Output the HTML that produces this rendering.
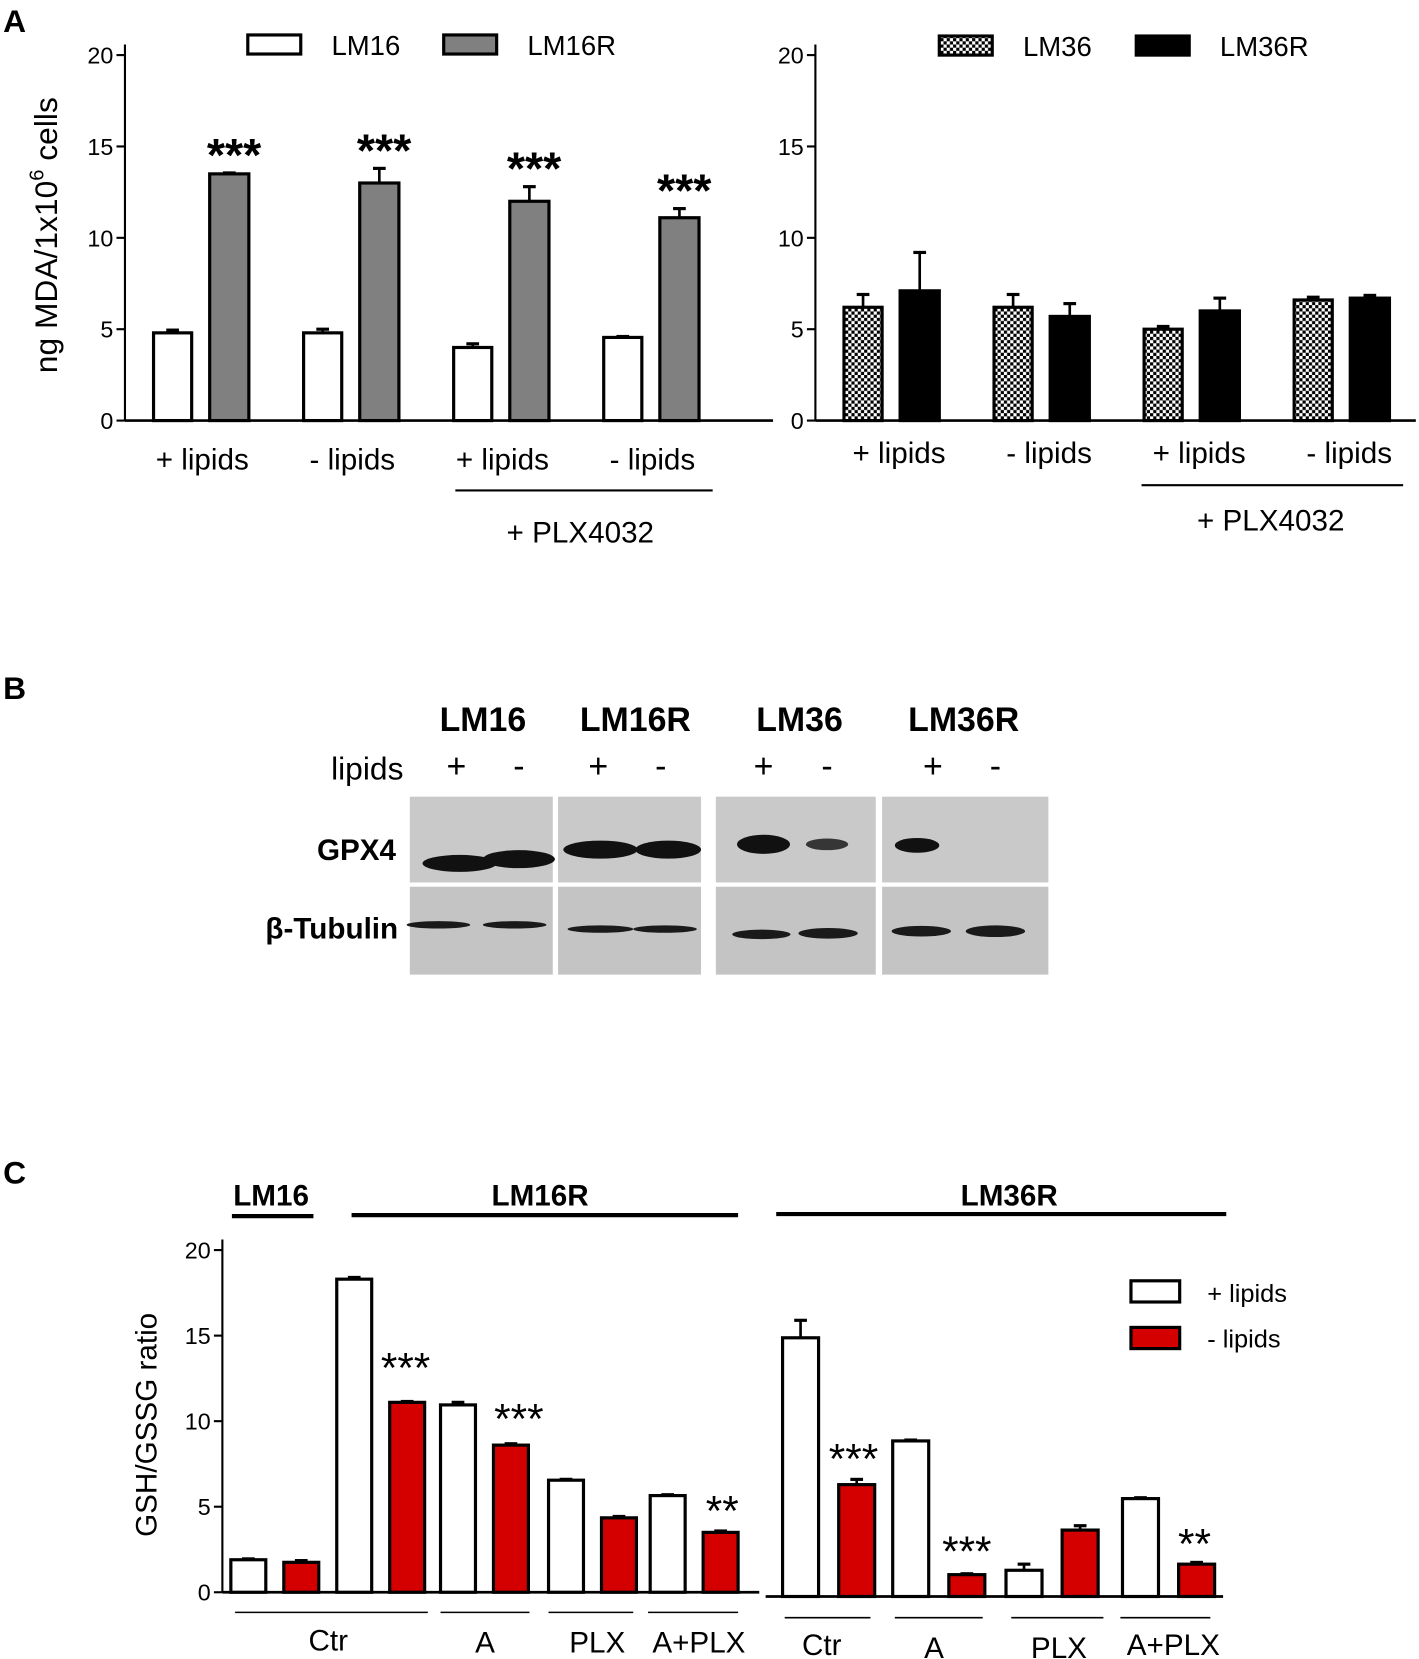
<!DOCTYPE html>
<html><head><meta charset="utf-8"><style>
html,body{margin:0;padding:0;background:#fff;}
svg{display:block;font-family:"Liberation Sans",Arial,sans-serif;}
</style></head><body>
<svg id="fig" width="1419" height="1659" viewBox="0 0 1340 1566" preserveAspectRatio="none" xmlns="http://www.w3.org/2000/svg">
<defs>
<pattern id="chk" width="6" height="6" patternUnits="userSpaceOnUse"><rect width="6" height="6" fill="#fff"/><rect width="3" height="3" fill="#000"/><rect x="3" y="3" width="3" height="3" fill="#000"/></pattern>
</defs>
<text x="3" y="30" font-size="30" font-weight="bold">A</text>
<text x="3" y="660" font-size="30" font-weight="bold">B</text>
<text x="3" y="1117" font-size="30" font-weight="bold">C</text>
<text transform="translate(54,222) rotate(-90)" text-anchor="middle" font-size="30">ng MDA/1x10<tspan dy="-13" font-size="19">6</tspan><tspan dy="13"> cells</tspan></text>
<text transform="translate(148,1345) rotate(-90)" text-anchor="middle" font-size="28">GSH/GSSG ratio</text>
<g id="blot"></g>
<g id="plots"></g>
</svg>
<script>
// Panel A data
const aCats = ["+ lipids","- lipids","+ lipids","- lipids"];
const lm16 = [4.8,4.8,4.0,4.55];
const lm16Err = [0.15,0.2,0.2,0.05];
const lm16r = [13.5,13.0,12.0,11.1];
const lm16rErr = [0.05,0.8,0.8,0.5];
const lm36 = [6.2,6.2,5.0,6.6];
const lm36Err = [0.7,0.7,0.15,0.15];
const lm36r = [7.1,5.7,6.0,6.7];
const lm36rErr = [2.1,0.7,0.7,0.15];
const aTicks = [0,5,10,15,20];
// Panel C data
const cPlusL = [1.9,18.3,10.95,6.55,5.65];
const cPlusLErr = [0.05,0.1,0.15,0.05,0.05];
const cMinusL = [1.75,11.1,8.6,4.35,3.5];
const cMinusLErr = [0.1,0.05,0.08,0.08,0.08];
const cPlusR = [14.8,8.9,1.5,5.6];
const cPlusRErr = [1.0,0.05,0.35,0.05];
const cMinusR = [6.4,1.25,3.8,1.85];
const cMinusRErr = [0.3,0.05,0.25,0.1];
const cTicks = [0,5,10,15,20];

const NS="http://www.w3.org/2000/svg";
const root=document.getElementById('plots');
function mk(tag,attrs,parent,txt){const e=document.createElementNS(NS,tag);for(const k in attrs)e.setAttribute(k,attrs[k]);if(txt!==undefined)e.textContent=txt;(parent||root).appendChild(e);return e;}
function bar(x,w,v,err,fill,y,g){
  const b=mk('rect',{x:x,y:y(v),width:w,height:y(0)-y(v),fill:fill,stroke:'#000','stroke-width':3},g);
  
  
  const cx=x+w/2;
  mk('line',{x1:cx,x2:cx,y1:y(v),y2:y(v+err),stroke:'#000','stroke-width':2.5},g);
  mk('line',{x1:cx-6,x2:cx+6,y1:y(v+err),y2:y(v+err),stroke:'#000','stroke-width':3},g);
}
function yAxis(ax,y0,y20,ticks,yfn,g){
  mk('line',{x1:ax,x2:ax,y1:y20-10,y2:y0,stroke:'#000','stroke-width':2},g);
  ticks.forEach(t=>{mk('line',{x1:ax-8,x2:ax,y1:yfn(t),y2:yfn(t),stroke:'#000','stroke-width':2},g);
    const l=mk('text',{x:ax-11,y:yfn(t)+8,'text-anchor':'end','font-size':22},g,String(t));
    
    });
}
// Panel A left
(function(){
  const g=mk('g',{});  
  const y=v=>397-v*17.25;
  yAxis(118,397,52,aTicks,y,g);
  mk('line',{x1:118,x2:730,y1:397,y2:397,stroke:'#000','stroke-width':2.5},g);
  aCats.forEach((c,i)=>{
    const x0=145+i*141.7;
    bar(x0,36,lm16[i],lm16Err[i],'#fff',y,g);
    bar(x0+53,37,lm16r[i],lm16rErr[i],'#808080',y,g);
    const st=mk('text',{x:x0+76,y:y(lm16r[i]+lm16rErr[i])-2,'text-anchor':'middle','font-size':44,'font-weight':'bold'},g,'***');
    
    
    const l=mk('text',{x:x0+46,y:443,'text-anchor':'middle','font-size':28},g,c);
    
    
  });
  mk('line',{x1:430,x2:673,y1:463,y2:463,stroke:'#000','stroke-width':2},g);
  mk('text',{x:548,y:512,'text-anchor':'middle','font-size':28},g,'+ PLX4032');
  mk('rect',{x:234,y:33,width:50,height:18,fill:'#fff',stroke:'#000','stroke-width':3},g);
  mk('text',{x:313,y:52,'font-size':26},g,'LM16');
  mk('rect',{x:419,y:33,width:50,height:18,fill:'#808080',stroke:'#000','stroke-width':3},g);
  mk('text',{x:498,y:52,'font-size':26},g,'LM16R');
})();
// Panel A right
(function(){
  const g=mk('g',{});  
  const y=v=>397-v*17.25;
  yAxis(770,397,52,aTicks,y,g);
  mk('line',{x1:770,x2:1337,y1:397,y2:397,stroke:'#000','stroke-width':2.5},g);
  aCats.forEach((c,i)=>{
    const x0=797+i*141.7;
    bar(x0,36,lm36[i],lm36Err[i],'url(#chk)',y,g);
    bar(x0+53,37,lm36r[i],lm36rErr[i],'#000',y,g);
    const l=mk('text',{x:x0+52,y:437,'text-anchor':'middle','font-size':28},g,c);
    
    
  });
  mk('line',{x1:1078,x2:1325,y1:458,y2:458,stroke:'#000','stroke-width':2},g);
  mk('text',{x:1200,y:501,'text-anchor':'middle','font-size':28},g,'+ PLX4032');
  mk('rect',{x:887,y:34,width:50,height:18,fill:'url(#chk)',stroke:'#000','stroke-width':3},g);
  mk('text',{x:966,y:53,'font-size':26},g,'LM36');
  mk('rect',{x:1073,y:34,width:50,height:18,fill:'#000',stroke:'#000','stroke-width':3},g);
  mk('text',{x:1152,y:53,'font-size':26},g,'LM36R');
})();
// Panel B blot
(function(){
  const g=document.getElementById('blot');
  const hdr=[["LM16",456],["LM16R",600],["LM36",755],["LM36R",910]];
  hdr.forEach(h=>mk('text',{x:h[1],y:690,'text-anchor':'middle','font-size':32,'font-weight':'bold'},g,h[0]));
  mk('text',{x:381,y:736,'text-anchor':'end','font-size':30},g,'lipids');
  const signs=[[431,'+'],[490,'-'],[565,'+'],[624,'-'],[721,'+'],[781,'-'],[881,'+'],[940,'-']];
  signs.forEach(s=>mk('text',{x:s[0],y:734,'text-anchor':'middle','font-size':32},g,s[1]));
  mk('text',{x:374,y:812,'text-anchor':'end','font-size':28,'font-weight':'bold'},g,'GPX4');
  mk('text',{x:376,y:886,'text-anchor':'end','font-size':28,'font-weight':'bold'},g,'β-Tubulin');
  const panels=[[387,522],[527,662],[676,827],[833,990]];
  panels.forEach(p=>{
    mk('rect',{x:p[0],y:752,width:p[1]-p[0],height:81,fill:'#c9c9c9'},g);
    mk('rect',{x:p[0],y:837,width:p[1]-p[0],height:83,fill:'#c4c4c4'},g);
  });
  const gp=[[434,815,70,16,1],[490,811,68,17,1],[567,802,70,17,1],[631,802,62,17,1],[721,797,50,18,1],[781,797,40,11,0.8],[866,798,42,14,1]];
  gp.forEach(b=>mk('ellipse',{cx:b[0],cy:b[1],rx:b[2]/2,ry:b[3]/2,fill:'#111','fill-opacity':b[4]},g));
  const tb=[[414,873,60,7],[486,873,60,7],[567,877,62,7],[628,877,60,7],[719,882,55,9],[782,881,56,10],[870,879,56,10],[940,879,56,11]];
  tb.forEach(b=>mk('ellipse',{cx:b[0],cy:b[1],rx:b[2]/2,ry:b[3]/2,fill:'#1a1a1a'},g));
})();
// Panel C
(function(){
  const g=mk('g',{});  
  const y=v=>1503-v*16.15;
  const yR=v=>1507-v*16.5;
  yAxis(210,1503,1180,cTicks,y,g);
  mk('line',{x1:210,x2:717,y1:1503,y2:1503,stroke:'#000','stroke-width':2.5},g);
  mk('line',{x1:723,x2:1155,y1:1507,y2:1507,stroke:'#000','stroke-width':2.5},g);
  const lx=[218,318,416,518,614];
  cPlusL.forEach((v,i)=>{
    bar(lx[i],33,v,cPlusLErr[i],'#fff',y,g);
    bar(lx[i]+50,33,cMinusL[i],cMinusLErr[i],'#d40000',y,g);
  });
  const rx=[739,843,950,1060];
  cPlusR.forEach((v,i)=>{
    bar(rx[i],34,v,cPlusRErr[i],'#fff',yR,g);
    bar(rx[i]+53,34,cMinusR[i],cMinusRErr[i],'#d40000',yR,g);
  });
  const stars=[[383,1305,'***'],[490,1353,'***'],[682,1440,'**'],[806,1391,'***'],[913,1478,'***'],[1128,1471,'**']];
  stars.forEach(s=>{const t=mk('text',{x:s[0],y:s[1],'text-anchor':'middle','font-size':40},g,s[2]);
    
    });
  const hd=[["LM16",256,219,296,1148],["LM16R",510,332,697,1147],["LM36R",953,733,1158,1146]];
  hd.forEach(h=>{mk('text',{x:h[1],y:1138,'text-anchor':'middle','font-size':28,'font-weight':'bold'},g,h[0]);
    mk('line',{x1:h[2],x2:h[3],y1:h[4],y2:h[4],stroke:'#000','stroke-width':4},g);});
  const bl=[["Ctr",222,404,310,1522,1558],["A",416,500,458,1522,1560],["PLX",518,598,564,1522,1560],["A+PLX",612,697,660,1522,1560],
    ["Ctr",741,822,776,1527,1562],["A",845,928,882,1527,1565],["PLX",955,1042,1000,1527,1565],["A+PLX",1058,1143,1108,1527,1562]];
  bl.forEach(b=>{mk('line',{x1:b[1],x2:b[2],y1:b[4],y2:b[4],stroke:'#000','stroke-width':1.5},g);
    const t=mk('text',{x:b[3],y:b[5],'text-anchor':'middle','font-size':28},g,b[0]);
    
    });
  mk('rect',{x:1068,y:1209,width:46,height:20,fill:'#fff',stroke:'#000','stroke-width':3},g);
  mk('text',{x:1140,y:1229,'font-size':24},g,'+ lipids');
  mk('rect',{x:1068,y:1253,width:46,height:20,fill:'#d40000',stroke:'#000','stroke-width':3},g);
  mk('text',{x:1140,y:1272,'font-size':24},g,'- lipids');
})();
</script>
</body></html>
